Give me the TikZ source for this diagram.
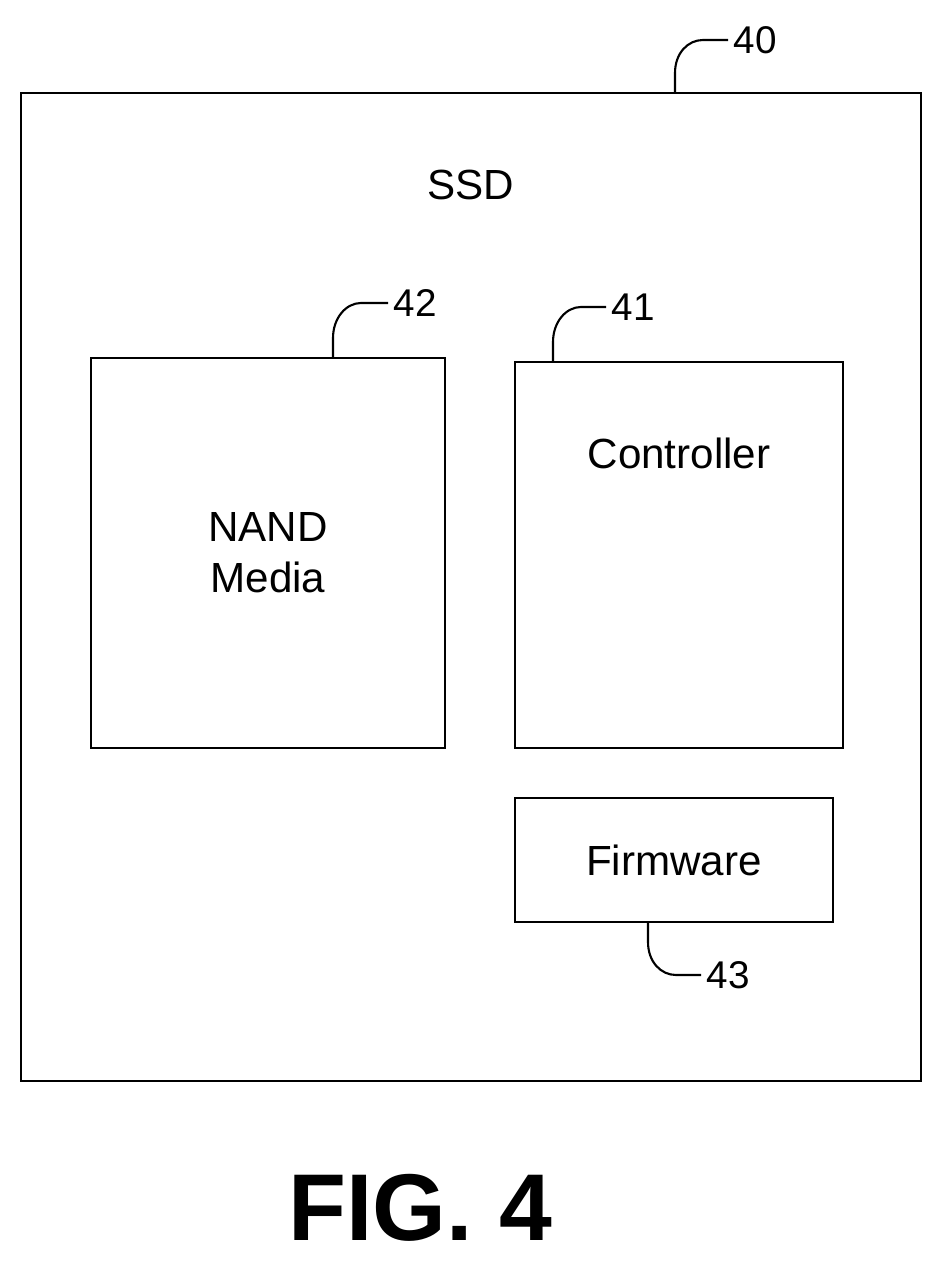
\documentclass[tikz,border=0pt]{standalone}
\usepackage{fontspec}
\setmainfont{Liberation Sans}
\begin{document}
\begin{tikzpicture}[x=0.02cm,y=-0.02cm]
\tikzstyle{block} = [draw=black, line width=1.2pt]
\tikzstyle{lead} = [draw=black, line width=1.2pt]
\tikzstyle{txt} = [font=\fontsize{24}{29}\selectfont, align=center]
\tikzstyle{num} = [font=\fontsize{22}{26}\selectfont, anchor=west, inner sep=3pt]

\useasboundingbox (0,0) rectangle (943,1263);

\draw[block] (21,93) rectangle (921,1081);
\draw[block] (91,358) rectangle (445,748);
\draw[block] (515,362) rectangle (843,748);
\draw[block] (515,798) rectangle (833,922);

\node[txt] (ssd) at (471,185) {SSD};
\node[txt] (nand) at (268,553) {NAND\\Media};
\node[txt] (ctrl) at (679,453) {Controller};
\node[txt] (fw) at (674,860) {Firmware};
\node[font=\fontsize{54}{58}\selectfont\bfseries] (fig) at (420,1208) {FIG. 4};

\coordinate (s40) at (675,93);
\coordinate (e40) at (728,40);
\coordinate (s42) at (333,358);
\coordinate (e42) at (388,303);
\coordinate (s41) at (553,362);
\coordinate (e41) at (606,307);
\coordinate (s43) at (648,922);
\coordinate (e43) at (701,975);

\node[num] (n40) at (e40) {40};
\node[num] (n42) at (e42) {42};
\node[num] (n41) at (e41) {41};
\node[num] (n43) at (e43) {43};

\draw[lead] (s40) -- ++(0,-20) .. controls +(0,-20) and +(-15,0) .. ++(28,-33) -- (e40);
\draw[lead] (s42) -- ++(0,-20) .. controls +(0,-20) and +(-15,0) .. ++(28,-35) -- (e42);
\draw[lead] (s41) -- ++(0,-20) .. controls +(0,-20) and +(-15,0) .. ++(28,-35) -- (e41);
\draw[lead] (s43) -- ++(0,20) .. controls +(0,20) and +(-15,0) .. ++(28,33) -- (e43);
\end{tikzpicture}
\end{document}
